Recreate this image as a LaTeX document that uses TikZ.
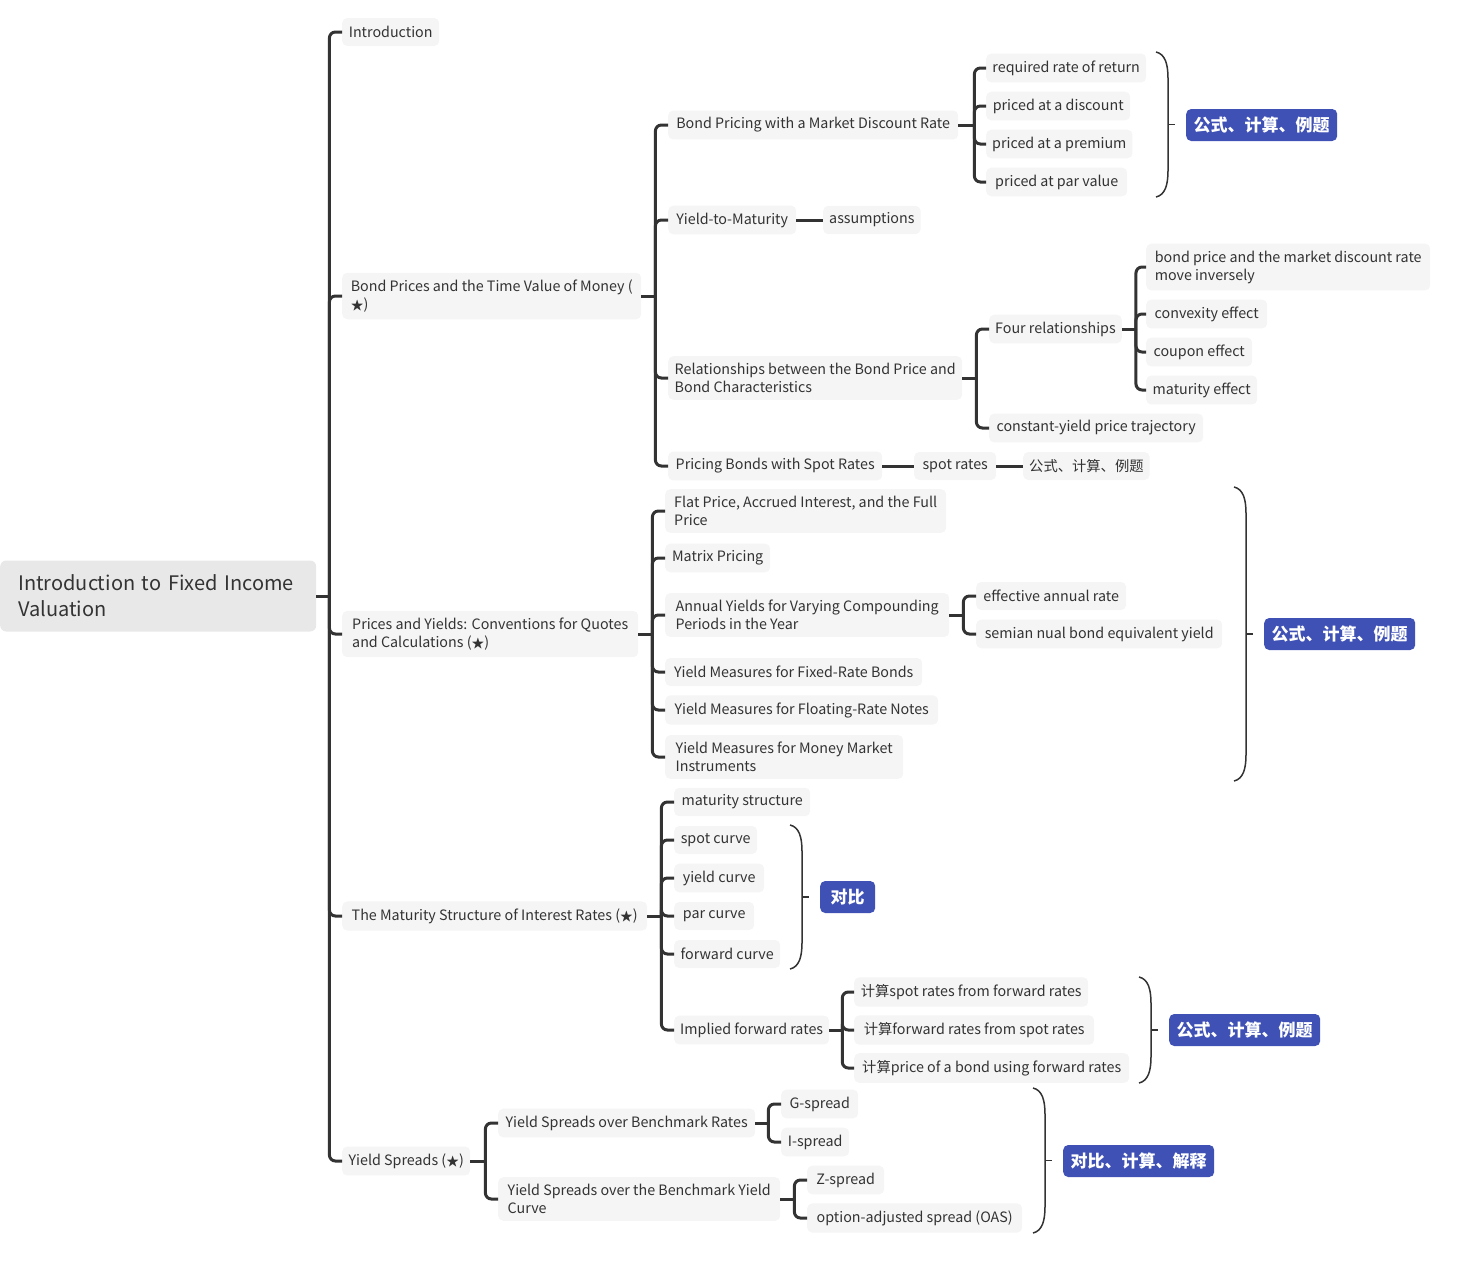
\documentclass[tikz,border=0pt]{standalone}
\usepackage{amssymb}
\usepackage{fontspec}
\setmainfont{Noto Sans CJK SC}
\definecolor{ink}{HTML}{333333}
\definecolor{boxgray}{HTML}{F5F5F5}
\definecolor{rootgray}{HTML}{E8E8E8}
\definecolor{badgeblue}{HTML}{3F51B5}
\newcommand{\rstar}{{\fontsize{13.5}{13.5}\selectfont$\bigstar$}}
\tikzset{
  topic/.style={anchor=west, fill=boxgray, text=ink, rounded corners=5pt,
    inner xsep=6pt, inner ysep=7pt, minimum height=28pt, align=left,
    font=\fontsize{14.3}{18}\selectfont},
  boxw/.style={minimum width=#1},
  branch/.style={draw=ink, line width=3pt, rounded corners=6pt},
  brace/.style={draw=ink, line width=1.5pt},
  badge/.style={anchor=west, fill=badgeblue, text=white, rounded corners=5pt,
    minimum height=32pt, inner xsep=0pt, font=\fontsize{17}{18}\selectfont\bfseries},
}
% summary brace: x, top, bottom
\newcommand{\sumbrace}[3]{%
  \draw[brace] (#1,#2) .. controls (#1+9,#2+2) and (#1+12,#2+12) .. (#1+12,#2+26)
    -- (#1+12,#3-26) .. controls (#1+12,#3-12) and (#1+9,#3-2) .. (#1,#3);
  \draw[brace] (#1+12,{(#2+#3)/2}) -- ++(7,0);
}
\begin{document}
\begin{tikzpicture}[x=1pt,y=-1pt]
\useasboundingbox (0,0) rectangle (1460,1261);

% root
\node[anchor=west, fill=rootgray, text=ink, rounded corners=6pt, minimum height=71pt,
  inner xsep=18pt, text width=280pt, align=left, font=\fontsize{20}{26}\selectfont]
  (root) at (0,596) {Introduction to Fixed Income\\Valuation};

% level 1
\node[topic,boxw=97] (intro) at (342,32) {Introduction};
\node[topic,boxw=299] (bpt) at (342,296) {Bond Prices and the Time Value of Money (\\\rstar)};
\node[topic,boxw=296] (pay) at (342,634) {Prices and Yields: Conventions for Quotes\\and Calculations (\rstar)};
\node[topic,boxw=305] (mat) at (342,916) {The Maturity Structure of Interest Rates (\rstar)};
\node[topic,boxw=128] (ys) at (342,1161) {Yield Spreads (\rstar)};

\draw[branch] (root.east) -- ++(13,0) coordinate (rootT);
\foreach \c in {intro,bpt,pay,mat,ys} \draw[branch] (rootT) |- (\c.west);

% bond prices
\node[topic,boxw=290] (mdr) at (668,125) {Bond Pricing with a Market Discount Rate};
\node[topic,boxw=128] (ytm) at (668,220) {Yield-to-Maturity};
\node[topic,boxw=294] (rel) at (668,378) {Relationships between the Bond Price and\\Bond Characteristics};
\node[topic,boxw=214] (spr) at (668,466) {Pricing Bonds with Spot Rates};

\draw[branch] (bpt.east) -- ++(14,0) coordinate (bptT);
\foreach \c in {mdr,ytm,rel,spr} \draw[branch] (bptT) |- (\c.west);

\node[topic,boxw=160] (req) at (986,68) {required rate of return};
\node[topic,boxw=144] (disc) at (986,106) {priced at a discount};
\node[topic,boxw=145] (prem) at (986,144) {priced at a premium};
\node[topic,boxw=141] (parv) at (986,182) {priced at par value};

\draw[branch] (mdr.east) -- ++(16,0) coordinate (mdrT);
\foreach \c in {req,disc,prem,parv} \draw[branch] (mdrT) |- (\c.west);

\sumbrace{1156}{52}{197}
\node[badge,boxw=151] (b1) at (1186,125) {公式、计算、例题};

\node[topic,boxw=95] (assum) at (823,220) {assumptions};
\draw[branch] (ytm.east) -- (assum.west);

\node[topic,boxw=130] (four) at (989,329) {Four relationships};
\node[topic,boxw=214] (cyt) at (989,428) {constant-yield price trajectory};

\draw[branch] (rel.east) -- ++(14,0) coordinate (relT);
\foreach \c in {four,cyt} \draw[branch] (relT) |- (\c.west);

\node[topic,boxw=284] (inv) at (1146,267) {bond price and the market discount rate\\move inversely};
\node[topic,boxw=121] (conv) at (1146,314) {convexity effect};
\node[topic,boxw=106] (coup) at (1146,352) {coupon effect};
\node[topic,boxw=111] (matu) at (1146,390) {maturity effect};

\draw[branch] (four.east) -- ++(14,0) coordinate (fourT);
\foreach \c in {inv,conv,coup,matu} \draw[branch] (fourT) |- (\c.west);

\node[topic,boxw=82] (spot) at (914,466) {spot rates};
\node[topic,boxw=123] (fml) at (1023,466) {公式、计算、例题};
\draw[branch] (spr.east) -- (spot.west);
\draw[branch] (spot.east) -- (fml.west);

% prices and yields
\node[topic,boxw=281] (flat) at (665,511) {Flat Price, Accrued Interest, and the Full\\Price};
\node[topic,boxw=105] (matrix) at (665,558) {Matrix Pricing};
\node[topic,boxw=284] (ann) at (665,615) {Annual Yields for Varying Compounding\\Periods in the Year};
\node[topic,boxw=257] (fix) at (665,672) {Yield Measures for Fixed-Rate Bonds};
\node[topic,boxw=273] (flo) at (665,710) {Yield Measures for Floating-Rate Notes};
\node[topic,boxw=238] (mm) at (665,757) {Yield Measures for Money Market\\Instruments};

\draw[branch] (pay.east) -- ++(14,0) coordinate (payT);
\foreach \c in {flat,matrix,ann,fix,flo,mm} \draw[branch] (payT) |- (\c.west);

\node[topic,boxw=150] (ear) at (976,596) {effective annual rate};
\node[topic,boxw=246] (bey) at (976,634) {semian nual bond equivalent yield};

\draw[branch] (ann.east) -- ++(14,0) coordinate (annT);
\foreach \c in {ear,bey} \draw[branch] (annT) |- (\c.west);

\sumbrace{1234}{487}{781}
\node[badge,boxw=151] (b2) at (1264,634) {公式、计算、例题};

% maturity structure
\node[topic,boxw=136] (ms) at (674,802) {maturity structure};
\node[topic,boxw=83] (sc) at (674,840) {spot curve};
\node[topic,boxw=90] (yc) at (674,878) {yield curve};
\node[topic,boxw=80] (pc) at (674,916) {par curve};
\node[topic,boxw=106] (fc) at (674,954) {forward curve};
\node[topic,boxw=154] (ifr) at (674,1030) {Implied forward rates};

\draw[branch] (mat.east) -- ++(14,0) coordinate (matT);
\foreach \c in {ms,sc,yc,pc,fc,ifr} \draw[branch] (matT) |- (\c.west);

\sumbrace{790}{825}{969}
\node[badge,boxw=55] (b3) at (820,897) {对比};

\node[topic,boxw=234] (c1) at (854,992) {计算spot rates from forward rates};
\node[topic,boxw=240] (c2) at (854,1030) {计算forward rates from spot rates};
\node[topic,boxw=275] (c3) at (854,1068) {计算price of a bond using forward rates};

\draw[branch] (ifr.east) -- ++(13,0) coordinate (ifrT);
\foreach \c in {c1,c2,c3} \draw[branch] (ifrT) |- (\c.west);

\sumbrace{1139}{977}{1083}
\node[badge,boxw=151] (b4) at (1169,1030) {公式、计算、例题};

% yield spreads
\node[topic,boxw=257] (bm) at (498,1123) {Yield Spreads over Benchmark Rates};
\node[topic,boxw=282] (byc) at (498,1199) {Yield Spreads over the Benchmark Yield\\Curve};

\draw[branch] (ys.east) -- ++(15,0) coordinate (ysT);
\foreach \c in {bm,byc} \draw[branch] (ysT) |- (\c.west);

\node[topic,boxw=77] (gs) at (781,1104) {G-spread};
\node[topic,boxw=68] (is) at (781,1142) {I-spread};
\draw[branch] (bm.east) -- ++(13,0) coordinate (bmT);
\foreach \c in {gs,is} \draw[branch] (bmT) |- (\c.west);

\node[topic,boxw=77] (zs) at (807,1180) {Z-spread};
\node[topic,boxw=215] (oas) at (807,1218) {option-adjusted spread (OAS)};
\draw[branch] (byc.east) -- ++(14,0) coordinate (bycT);
\foreach \c in {zs,oas} \draw[branch] (bycT) |- (\c.west);

\sumbrace{1033}{1088}{1233}
\node[badge,boxw=151] (b5) at (1063,1161) {对比、计算、解释};

\end{tikzpicture}
\end{document}
